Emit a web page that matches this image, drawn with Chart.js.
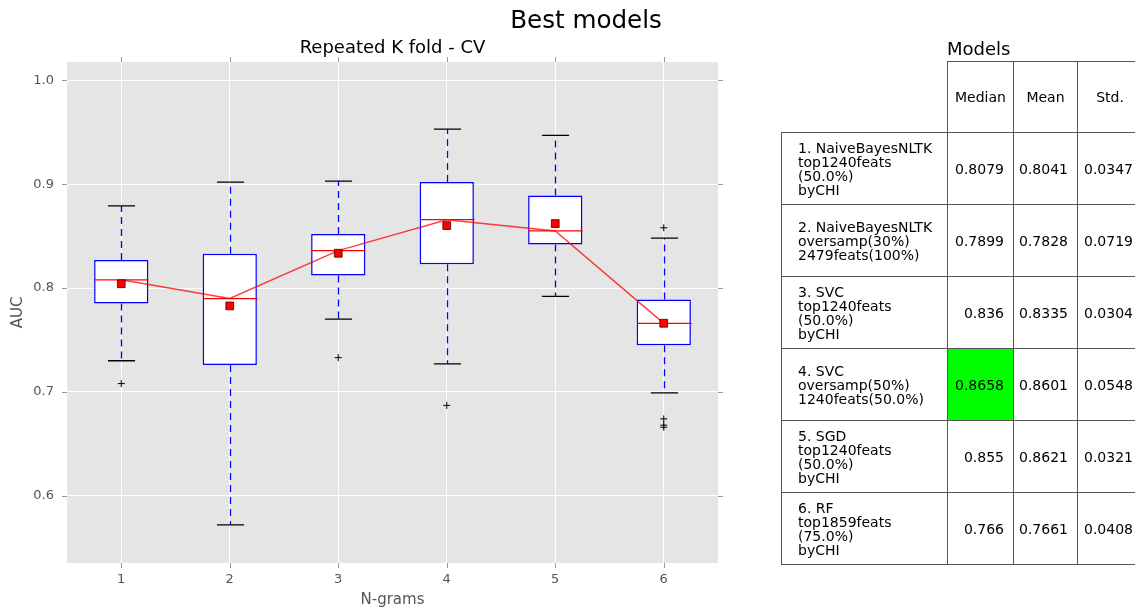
<!DOCTYPE html>
<html>
<head>
<meta charset="utf-8">
<title>Best models</title>
<script src="https://cdn.jsdelivr.net/npm/chart.js@4.4.1/dist/chart.umd.min.js"></script>
<style>
  html, body { margin: 0; padding: 0; background: #fff; overflow: hidden; }
  #wrap { position: relative; width: 1135px; height: 610px; overflow: hidden; font-family: "DejaVu Sans", sans-serif; }
  #mainTitle { position: absolute; left: 586px; top: 8px; transform: translateX(-50%); font-size: 24.6px; line-height: 24px; color: #000; white-space: nowrap; }
  #tableTitle { position: absolute; left: 947px; top: 40px; font-size: 18px; line-height: 18px; color: #000; }
  #models { position: absolute; left: 781px; top: 61px; width: 361px; border-collapse: collapse; table-layout: fixed; font-size: 14px; color: #000; }
  #models td { border: 1px solid #555; padding: 0; }
  #models td.empty { border: none; }
  #models td.head { text-align: center; height: 70px; }
  #models td.label { text-align: left; padding-left: 16px; white-space: pre-line; line-height: 14px; height: 71px; }
  #models td.num { text-align: right; padding-right: 9px; }
  #models td.best { background: #00ff00; }
</style>
</head>
<body>
<div id="wrap">
  <canvas id="boxChart" width="1135" height="610"></canvas>
  <div id="mainTitle">Best models</div>
  <div id="tableTitle">Models</div>
  <table id="models"></table>
</div>
<script>
// N-gram groups on the x axis
const categories = ['1', '2', '3', '4', '5', '6'];
const yTicks = [0.6, 0.7, 0.8, 0.9, 1.0];

// box statistics per group
const whiskerLow = [0.730, 0.572, 0.770, 0.727, 0.792, 0.699];
const q1 = [0.785, 0.726, 0.812, 0.823, 0.842, 0.745];
const median = [0.8079, 0.7899, 0.836, 0.8658, 0.855, 0.766];
const mean = [0.8041, 0.7828, 0.8335, 0.8601, 0.8621, 0.7661];
const q3 = [0.827, 0.833, 0.852, 0.902, 0.889, 0.789];
const whiskerHigh = [0.879, 0.902, 0.903, 0.953, 0.947, 0.848];
const outliers = [[0.708], [], [0.733], [0.687], [], [0.858, 0.674, 0.668, 0.666]];

// table contents
const tableColumns = ['Median', 'Mean', 'Std.'];
const modelLabels = [
    '1. NaiveBayesNLTK\ntop1240feats\n(50.0%)\nbyCHI',
    '2. NaiveBayesNLTK\noversamp(30%)\n2479feats(100%)',
    '3. SVC\ntop1240feats\n(50.0%)\nbyCHI',
    '4. SVC\noversamp(50%)\n1240feats(50.0%)',
    '5. SGD\ntop1240feats\n(50.0%)\nbyCHI',
    '6. RF\ntop1859feats\n(75.0%)\nbyCHI'
];
const stdDev = [0.0347, 0.0719, 0.0304, 0.0548, 0.0321, 0.0408];

// build the table
const table = document.getElementById('models');
const colWidths = [166, 66, 64, 65];
let html = '<colgroup>' + colWidths.map(w => '<col style="width:' + w + 'px">').join('') + '</colgroup>';
html += '<tr><td class="empty"></td>' + tableColumns.map(c => '<td class="head">' + c + '</td>').join('') + '</tr>';
const bestIdx = median.indexOf(Math.max(...median));
modelLabels.forEach((lab, i) => {
    html += '<tr><td class="label">' + lab + '</td>' +
        '<td class="num' + (i === bestIdx ? ' best' : '') + '">' + String(median[i]) + '</td>' +
        '<td class="num">' + String(mean[i]) + '</td>' +
        '<td class="num">' + String(stdDev[i]) + '</td></tr>';
});
table.innerHTML = html;

const outlierPoints = [];
outliers.forEach((vals, i) => vals.forEach(v => outlierPoints.push({ x: categories[i], y: v })));

// grey panel behind the plot
const panelBg = {
    id: 'panelBg',
    beforeDraw(chart) {
        const { ctx, chartArea: a } = chart;
        ctx.save();
        ctx.fillStyle = '#e5e5e5';
        ctx.fillRect(a.left, a.top, a.right - a.left, a.bottom - a.top);
        ctx.restore();
    }
};

// small tick marks on all four sides
const outerTicks = {
    id: 'outerTicks',
    afterDraw(chart) {
        const { ctx, chartArea: a, scales } = chart;
        ctx.save();
        ctx.strokeStyle = '#999';
        ctx.lineWidth = 1;
        ctx.beginPath();
        yTicks.forEach(v => {
            const y = Math.round(scales.y.getPixelForValue(v)) + 0.5;
            ctx.moveTo(a.left - 5, y); ctx.lineTo(a.left, y);
            ctx.moveTo(a.right, y); ctx.lineTo(a.right + 5, y);
        });
        categories.forEach((c, i) => {
            const x = Math.round(scales.x.getPixelForValue(i)) + 0.5;
            ctx.moveTo(x, a.top - 5); ctx.lineTo(x, a.top);
            ctx.moveTo(x, a.bottom); ctx.lineTo(x, a.bottom + 5);
        });
        ctx.stroke();
        ctx.restore();
    }
};

// whiskers, caps and median lines drawn right after the boxes
const boxParts = {
    id: 'boxParts',
    afterDatasetDraw(chart, args) {
        if (args.index !== 0) return;
        const { ctx, scales } = chart;
        const ys = scales.y;
        const bars = args.meta.data;
        ctx.save();
        categories.forEach((c, i) => {
            const x = Math.round(scales.x.getPixelForValue(i)) + 0.5;
            const half = bars[i].width / 2;
            // whiskers
            ctx.strokeStyle = '#0000ff';
            ctx.lineWidth = 1.3;
            ctx.setLineDash([7, 5]);
            ctx.beginPath();
            ctx.moveTo(x, ys.getPixelForValue(q3[i]));
            ctx.lineTo(x, ys.getPixelForValue(whiskerHigh[i]));
            ctx.moveTo(x, ys.getPixelForValue(q1[i]));
            ctx.lineTo(x, ys.getPixelForValue(whiskerLow[i]));
            ctx.stroke();
            ctx.setLineDash([]);
            // caps
            ctx.strokeStyle = '#000';
            ctx.beginPath();
            [whiskerHigh[i], whiskerLow[i]].forEach(v => {
                const y = ys.getPixelForValue(v);
                ctx.moveTo(x - half / 2, y);
                ctx.lineTo(x + half / 2, y);
            });
            ctx.stroke();
            // median
            ctx.strokeStyle = '#ff0000';
            ctx.beginPath();
            const ym = ys.getPixelForValue(median[i]);
            ctx.moveTo(x - half, ym);
            ctx.lineTo(x + half, ym);
            ctx.stroke();
        });
        ctx.restore();
    }
};

new Chart(document.getElementById('boxChart'), {
    type: 'bar',
    data: {
        labels: categories,
        datasets: [{
            type: 'bar',
            label: 'IQR',
            data: categories.map((c, i) => [q1[i], q3[i]]),
            backgroundColor: '#ffffff',
            borderColor: '#0000ff',
            borderWidth: 1.5,
            borderSkipped: false,
            barPercentage: 0.5,
            categoryPercentage: 1,
            order: 3
        }, {
            type: 'line',
            label: 'Median',
            data: median,
            borderColor: 'rgba(255, 0, 0, 0.75)',
            borderWidth: 1.5,
            pointRadius: 0,
            tension: 0,
            order: 2
        }, {
            type: 'line',
            label: 'Outliers',
            data: outlierPoints,
            showLine: false,
            pointStyle: 'cross',
            pointRadius: 3.5,
            borderColor: '#000',
            borderWidth: 1,
            order: 1
        }, {
            type: 'line',
            label: 'Mean',
            data: mean,
            showLine: false,
            pointStyle: 'rect',
            pointRadius: 5.5,
            backgroundColor: '#ff0000',
            borderColor: 'rgba(70, 0, 0, 0.8)',
            borderWidth: 1,
            order: 0
        }]
    },
    options: {
        responsive: false,
        animation: false,
        layout: { padding: { left: 0, right: 417, top: 37.4, bottom: 0 } },
        plugins: {
            legend: { display: false },
            tooltip: { enabled: false },
            title: {
                display: true,
                text: 'Repeated K fold - CV',
                fullSize: false,
                color: '#000',
                font: { family: 'DejaVu Sans', size: 18, weight: 'normal', lineHeight: 1.2 },
                padding: { top: 0, bottom: 3 }
            }
        },
        scales: {
            x: {
                type: 'category',
                offset: true,
                afterFit(scale) { scale.height = 47; },
                grid: { color: '#ffffff', lineWidth: 1, offset: false, drawTicks: false },
                border: { display: false },
                ticks: { color: '#555', padding: 9, font: { family: 'DejaVu Sans', size: 13 } },
                title: {
                    display: true,
                    text: 'N-grams',
                    color: '#555',
                    font: { family: 'DejaVu Sans', size: 15, lineHeight: 1.2 },
                    padding: { top: 0, bottom: 1 }
                }
            },
            y: {
                min: 0.5353,
                max: 1.0176,
                afterFit(scale) { scale.width = 67; },
                afterBuildTicks(scale) { scale.ticks = yTicks.map(v => ({ value: v })); },
                grid: { color: '#ffffff', lineWidth: 1, drawTicks: false },
                border: { display: false },
                ticks: {
                    color: '#555',
                    padding: 13,
                    font: { family: 'DejaVu Sans', size: 13 },
                    callback: v => Number(v).toFixed(1)
                },
                title: {
                    display: true,
                    text: 'AUC',
                    color: '#555',
                    font: { family: 'DejaVu Sans', size: 15, lineHeight: 1.2 },
                    padding: { top: 9, bottom: 0 }
                }
            }
        }
    },
    plugins: [panelBg, boxParts, outerTicks]
});
</script>
</body>
</html>
